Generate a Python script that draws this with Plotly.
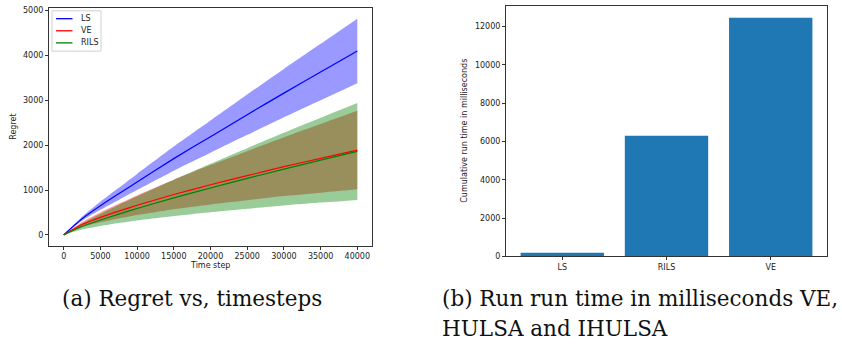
import plotly.graph_objects as go

# ---- data ----
t = [0, 2500, 5000, 7500, 10000, 15000, 20000, 25000, 30000, 35000, 40000]
ls_mean = [0, 360, 650, 915, 1180, 1700, 2190, 2680, 3160, 3630, 4100]
ls_low = [0, 315, 560, 780, 1000, 1430, 1830, 2230, 2620, 3000, 3380]
ls_high = [0, 405, 740, 1050, 1360, 1970, 2550, 3130, 3700, 4260, 4820]
ve_mean = [0, 230, 390, 530, 660, 900, 1118, 1320, 1520, 1705, 1890]
ve_low = [0, 175, 280, 366, 441, 572, 680, 773, 864, 939, 1015]
ve_high = [0, 285, 500, 694, 879, 1228, 1556, 1867, 2176, 2471, 2765]
rils_mean = [0, 186, 331, 464, 589, 824, 1046, 1259, 1465, 1665, 1860]
rils_low = [0, 119, 196, 262, 319, 419, 506, 584, 655, 720, 780]
rils_high = [0, 253, 466, 666, 859, 1229, 1586, 1934, 2275, 2610, 2940]

series_names = ["LS", "VE", "RILS"]
series_colors = ["blue", "red", "green"]

bar_labels = ["LS", "RILS", "VE"]
bar_values = [200, 6300, 12450]

x_ticks = [0, 5000, 10000, 15000, 20000, 25000, 30000, 35000, 40000]
y_ticks_left = [0, 1000, 2000, 3000, 4000, 5000]
y_ticks_right = [0, 2000, 4000, 6000, 8000, 10000, 12000]

caption_a = "(a) Regret vs, timesteps"
caption_b1 = "(b) Run run time in milliseconds VE,"
caption_b2 = "HULSA and IHULSA"

W, H = 842, 346
fig = go.Figure()

tick_font = dict(family="DejaVu Sans", size=8, color="#222")


def band(lo, hi, fillcol):
    fig.add_trace(go.Scatter(x=t, y=lo, mode="lines", line=dict(width=0, shape="spline", smoothing=0.6),
                             showlegend=False, hoverinfo="skip", xaxis="x", yaxis="y"))
    fig.add_trace(go.Scatter(x=t, y=hi, mode="lines", line=dict(width=0, shape="spline", smoothing=0.6),
                             fill="tonexty", fillcolor=fillcol, showlegend=False, hoverinfo="skip",
                             xaxis="x", yaxis="y"))


band(ls_low, ls_high, "rgba(0,0,255,0.4)")
band(ve_low, ve_high, "rgba(255,0,0,0.4)")
band(rils_low, rils_high, "rgba(0,128,0,0.4)")

for name, y, col in zip(series_names, [ls_mean, ve_mean, rils_mean], series_colors):
    fig.add_trace(go.Scatter(x=t, y=y, mode="lines", name=name, showlegend=False,
                             line=dict(color=col, width=1.2, shape="spline", smoothing=0.6),
                             xaxis="x", yaxis="y"))

fig.add_trace(go.Bar(x=bar_labels, y=bar_values, marker=dict(color="#1f77b4", line=dict(width=0)),
                     width=0.8, showlegend=False, xaxis="x2", yaxis="y2"))


def px_x(p):
    return p / W


def px_y(p):
    return 1 - p / H


axis_common = dict(showline=True, linecolor="#333", linewidth=1, mirror=True, ticks="outside",
                   ticklen=3, tickcolor="#333", tickfont=tick_font, showgrid=False, zeroline=False)

fig.update_layout(
    width=W, height=H, margin=dict(l=0, r=0, t=0, b=0),
    paper_bgcolor="white", plot_bgcolor="white", showlegend=False,
    xaxis=dict(domain=[px_x(49), px_x(372)], range=[-2000, 42000], tickvals=x_ticks,
               ticktext=[str(v) for v in x_ticks], anchor="y", **axis_common),
    yaxis=dict(domain=[px_y(249), px_y(7)], range=[-241, 5061], tickvals=y_ticks_left,
               ticktext=[str(v) for v in y_ticks_left], anchor="x", **axis_common),
    xaxis2=dict(domain=[px_x(506), px_x(827)], range=[-0.54, 2.54], anchor="y2",
                type="category", **axis_common),
    yaxis2=dict(domain=[px_y(260), px_y(5)], range=[0, 13072], tickvals=y_ticks_right,
                ticktext=[str(v) for v in y_ticks_right], anchor="x2", **axis_common),
)

# legend box (drawn manually to match the compact matplotlib legend)
fig.add_shape(type="rect", xref="paper", yref="paper", x0=px_x(52), x1=px_x(101),
              y0=px_y(51), y1=px_y(10), line=dict(color="#d0d0d0", width=1),
              fillcolor="rgba(255,255,255,0.8)", layer="above")
for i, (name, col) in enumerate(zip(series_names, series_colors)):
    yy = 18 + i * 12.3
    fig.add_shape(type="line", xref="paper", yref="paper", x0=px_x(56), x1=px_x(72.5),
                  y0=px_y(yy), y1=px_y(yy), line=dict(color=col, width=1.3), layer="above")
    fig.add_annotation(text=name, x=px_x(79), y=px_y(yy), xref="paper", yref="paper",
                       showarrow=False, font=dict(family="DejaVu Sans", size=8, color="#222"),
                       xanchor="left", yanchor="middle")

ann_font = dict(family="DejaVu Sans", size=8, color="#222")
cap_font = dict(family="DejaVu Serif", size=21.5, color="#111")
fig.add_annotation(text="Time step", x=px_x(210), y=px_y(269), xref="paper", yref="paper",
                   showarrow=False, font=ann_font, xanchor="center", yanchor="middle")
fig.add_annotation(text="Regret", x=px_x(14), y=px_y(128), xref="paper", yref="paper",
                   showarrow=False, font=ann_font, textangle=-90, xanchor="center", yanchor="middle")
fig.add_annotation(text="Cumulative run time in milliseconds", x=px_x(465), y=px_y(132),
                   xref="paper", yref="paper", showarrow=False, font=ann_font, textangle=-90,
                   xanchor="center", yanchor="middle")
fig.add_annotation(text=caption_a, x=px_x(60), y=px_y(303), xref="paper", yref="paper",
                   showarrow=False, font=cap_font, xanchor="left", yanchor="middle")
fig.add_annotation(text=caption_b1, x=px_x(440), y=px_y(303), xref="paper", yref="paper",
                   showarrow=False, font=cap_font, xanchor="left", yanchor="middle")
fig.add_annotation(text=caption_b2, x=px_x(440), y=px_y(333), xref="paper", yref="paper",
                   showarrow=False, font=cap_font, xanchor="left", yanchor="middle")

fig.write_html("out.html")
